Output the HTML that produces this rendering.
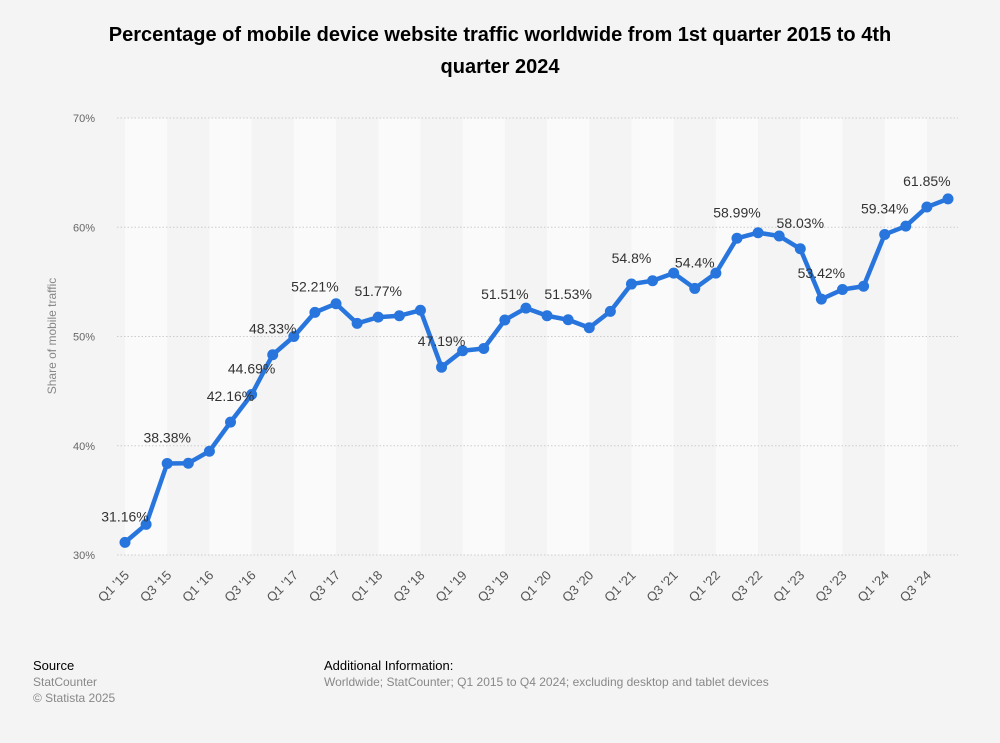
<!DOCTYPE html>
<html><head><meta charset="utf-8"><style>
body{margin:0;background:#f4f4f4;font-family:"Liberation Sans",sans-serif;}
#wrap{position:relative;width:1000px;height:743px;background:#f4f4f4;}
h1{position:absolute;left:80px;width:840px;top:19px;margin:0;text-align:center;font-size:20px;line-height:32px;font-weight:bold;color:#000;}
.foot{position:absolute;font-size:12px;color:#888;line-height:16px;}
.foot b{font-weight:normal;color:#000;font-size:13px;}
</style></head><body>
<div id="wrap">
<h1>Percentage of mobile device website traffic worldwide from 1st quarter 2015 to 4th quarter 2024</h1>
<svg id="chart" width="1000" height="743" style="position:absolute;left:0;top:0"></svg>
<div class="foot" style="left:33px;top:658px"><b>Source</b><br>StatCounter<br>© Statista 2025</div>
<div class="foot" style="left:324px;top:658px"><b>Additional Information:</b><br>Worldwide; StatCounter; Q1 2015 to Q4 2024; excluding desktop and tablet devices</div>
</div>
<script>
const values=[31.16,32.8,38.38,38.4,39.5,42.16,44.69,48.33,50.0,52.21,53.0,51.2,51.77,51.9,52.4,47.19,48.7,48.9,51.51,52.6,51.9,51.53,50.8,52.3,54.8,55.1,55.8,54.4,55.8,58.99,59.5,59.2,58.03,53.42,54.3,54.6,59.34,60.1,61.85,62.6];
const labeled=[0,2,5,6,7,9,12,15,18,21,24,27,29,32,33,36,38];
const yTicks=[30,40,50,60,70];
const NS="http://www.w3.org/2000/svg";
const svg=document.getElementById('chart');
const quarters=[];for(let y=15;y<=24;y++)for(let q=1;q<=4;q++)quarters.push("Q"+q+" '"+y);
const X0=125,X1=948,PL=117,PR=958;
const x=i=>X0+(X1-X0)*i/(values.length-1);
const y=v=>555-(v-30)*(555-118)/40;
function el(t,a){const e=document.createElementNS(NS,t);for(const k in a)e.setAttribute(k,a[k]);svg.appendChild(e);return e;}
for(let i=0;i<values.length;i+=4){const b=el('rect',{x:x(i),y:118,width:x(i+2)-x(i),height:437,fill:'#fafafa'});

}
yTicks.forEach(t=>{const l=el('line',{x1:PL,x2:PR,y1:y(t),y2:y(t),stroke:'#ccc','stroke-dasharray':'1.5,2'});


const tx=el('text',{x:95,y:y(t)+4,'text-anchor':'end','font-size':11,fill:'#666'});tx.textContent=t+'%';

});
const yt=el('text',{transform:'translate(56,336) rotate(-90)','text-anchor':'middle','font-size':12,fill:'#888'});yt.textContent='Share of mobile traffic';


for(let i=0;i<quarters.length;i+=2){const t=el('text',{transform:`translate(${x(i)+5},${576}) rotate(-45)`,'text-anchor':'end','font-size':13,fill:'#555'});t.textContent=quarters[i];

}
const p=el('polyline',{points:values.map((v,i)=>x(i)+','+y(v)).join(' '),fill:'none',stroke:'#2876dd','stroke-width':4.5,'stroke-linejoin':'round'});


values.forEach((v,i)=>{const c=el('circle',{cx:x(i),cy:y(v),r:5.5,fill:'#2876dd'});

});
labeled.forEach(i=>{const t=el('text',{x:x(i),y:y(values[i])-21,'text-anchor':'middle','font-size':14,fill:'#333'});t.textContent=values[i]+'%';

});
</script>
</body></html>
